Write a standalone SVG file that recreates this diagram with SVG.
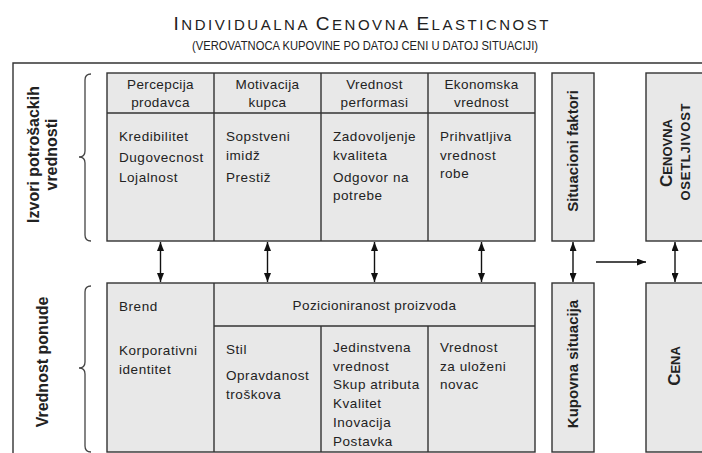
<svg xmlns="http://www.w3.org/2000/svg" width="702" height="453" viewBox="0 0 702 453">
<style>
text{font-family:"Liberation Sans",Arial,sans-serif;fill:#222}
.c{font-size:13.5px;letter-spacing:0.55px}
.h{font-size:13.5px;letter-spacing:0.4px;text-anchor:middle}
.b{font-weight:bold}
.box{fill:#e8e8e8;stroke:#333;stroke-width:1.4}
.ln{stroke:#333;stroke-width:1.4;fill:none}
.br{stroke:#444;stroke-width:1.3;fill:none}
.ar{stroke:#111;stroke-width:1.4;fill:none}
</style>
<defs>
<marker id="ah" viewBox="0 0 9 7" refX="9" refY="3.5" markerWidth="9" markerHeight="7" markerUnits="userSpaceOnUse" orient="auto-start-reverse">
<path d="M0,0 L9,3.5 L0,7 z" fill="#111"/>
</marker>
</defs>
<rect width="702" height="453" fill="#fff"/>

<g id="title">
<text x="361" y="30" text-anchor="middle" textLength="375" lengthAdjust="spacing"><tspan font-size="19">I</tspan><tspan font-size="15">NDIVIDUALNA </tspan><tspan font-size="19">C</tspan><tspan font-size="15">ENOVNA </tspan><tspan font-size="19">E</tspan><tspan font-size="15">LASTICNOST</tspan></text>
<text x="365" y="50" text-anchor="middle" font-size="12" textLength="346" lengthAdjust="spacingAndGlyphs">(VEROVATNOCA  KUPOVINE  PO DATOJ CENI U DATOJ SITUACIJI)</text>
</g>

<g id="frame">
<path class="ln" d="M13,460 L13,63 L710,63" stroke-width="1.6"/>
</g>

<g id="label-izvori">
<text class="b" font-size="16" text-anchor="middle" transform="translate(38.5,154.5) rotate(-90)">Izvori potrošackih</text>
<text class="b" font-size="16" text-anchor="middle" transform="translate(57,154.5) rotate(-90)">vrednosti</text>
<path class="br" d="M91,74 Q85,74 85,80 L85,151 Q85,157 79,157 Q85,157 85,163 L85,235 Q85,241 91,241"/>
</g>

<g id="label-vrednost-ponude">
<text class="b" font-size="16" text-anchor="middle" transform="translate(48,362) rotate(-90)">Vrednost ponude</text>
<path class="br" d="M91,286 Q85,286 85,292 L85,362 Q85,368 79,368 Q85,368 85,374 L85,446 Q85,452 91,452"/>
</g>

<g id="izvori-table">
<rect class="box" x="107" y="73" width="428" height="168"/>
<path class="ln" d="M107,113 H535 M214,73 V241 M321,73 V241 M428,73 V241"/>
</g>

<g id="percepcija-prodavca">
<text class="h" x="160.5" y="88.5">Percepcija</text>
<text class="h" x="160.5" y="106.5">prodavca</text>
<text class="c" x="119" y="141">Kredibilitet</text>
<text class="c" x="119" y="161.5">Dugovecnost</text>
<text class="c" x="119" y="182">Lojalnost</text>
</g>

<g id="motivacija-kupca">
<text class="h" x="267.5" y="88.5">Motivacija</text>
<text class="h" x="267.5" y="106.5">kupca</text>
<text class="c" x="226" y="141">Sopstveni</text>
<text class="c" x="226" y="160">imidž</text>
<text class="c" x="226" y="182">Prestiž</text>
</g>

<g id="vrednost-performasi">
<text class="h" x="374.5" y="88.5">Vrednost</text>
<text class="h" x="374.5" y="106.5">performasi</text>
<text class="c" x="333" y="141">Zadovoljenje</text>
<text class="c" x="333" y="160">kvaliteta</text>
<text class="c" x="333" y="181.5">Odgovor na</text>
<text class="c" x="333" y="199.5">potrebe</text>
</g>

<g id="ekonomska-vrednost">
<text class="h" x="481.5" y="88.5">Ekonomska</text>
<text class="h" x="481.5" y="106.5">vrednost</text>
<text class="c" x="440" y="141">Prihvatljiva</text>
<text class="c" x="440" y="159.5">vrednost</text>
<text class="c" x="440" y="178">robe</text>
</g>

<g id="situacioni-faktori">
<rect class="box" x="552" y="73" width="42" height="168"/>
<text class="b" font-size="15" text-anchor="middle" transform="translate(578,151) rotate(-90)">Situacioni faktori</text>
</g>

<g id="cenovna-osetljivost">
<rect class="box" x="646" y="73" width="80" height="168"/>
<text class="b" text-anchor="middle" transform="translate(672,153) rotate(-90)"><tspan font-size="17">C</tspan><tspan font-size="13">ENOVNA</tspan></text>
<text class="b" text-anchor="middle" font-size="13" transform="translate(690,152) rotate(-90)" textLength="97" lengthAdjust="spacing">OSETLJIVOST</text>
</g>

<g id="ponuda-table">
<rect class="box" x="107" y="283" width="428" height="169"/>
<path class="ln" d="M214,283 V452 M214,326 H535 M321,326 V452 M428,326 V452"/>
</g>

<g id="brend">
<text class="c" x="119" y="311">Brend</text>
<text class="c" x="119" y="355">Korporativni</text>
<text class="c" x="119" y="373.5">identitet</text>
</g>

<g id="pozicioniranost">
<text class="h" x="374.5" y="310">Pozicioniranost proizvoda</text>
</g>

<g id="stil">
<text class="c" x="226" y="354">Stil</text>
<text class="c" x="226" y="380">Opravdanost</text>
<text class="c" x="226" y="398.5">troškova</text>
</g>

<g id="jedinstvena-vrednost">
<text class="c" x="333" y="352">Jedinstvena</text>
<text class="c" x="333" y="370.7">vrednost</text>
<text class="c" x="333" y="389.4">Skup atributa</text>
<text class="c" x="333" y="408.1">Kvalitet</text>
<text class="c" x="333" y="426.8">Inovacija</text>
<text class="c" x="333" y="445.5">Postavka</text>
</g>

<g id="vrednost-za-novac">
<text class="c" x="440" y="352">Vrednost</text>
<text class="c" x="440" y="370.7">za uloženi</text>
<text class="c" x="440" y="389.4">novac</text>
</g>

<g id="kupovna-situacija">
<rect class="box" x="552" y="283" width="42" height="169"/>
<text class="b" font-size="15" text-anchor="middle" transform="translate(578,364) rotate(-90)">Kupovna situacija</text>
</g>

<g id="cena">
<rect class="box" x="646" y="283" width="80" height="169"/>
<text class="b" text-anchor="middle" transform="translate(680,366) rotate(-90)"><tspan font-size="17">C</tspan><tspan font-size="13">ENA</tspan></text>
</g>

<g id="connectors">
<path class="ar" d="M160.5,242 V282" marker-start="url(#ah)" marker-end="url(#ah)"/>
<path class="ar" d="M267.5,242 V282" marker-start="url(#ah)" marker-end="url(#ah)"/>
<path class="ar" d="M374.5,242 V282" marker-start="url(#ah)" marker-end="url(#ah)"/>
<path class="ar" d="M481.5,242 V282" marker-start="url(#ah)" marker-end="url(#ah)"/>
<path class="ar" d="M573,242 V282" marker-start="url(#ah)" marker-end="url(#ah)"/>
<path class="ar" d="M675,242 V282" marker-start="url(#ah)" marker-end="url(#ah)"/>
<path class="ar" d="M596,262 H646" marker-end="url(#ah)"/>
</g>
</svg>
